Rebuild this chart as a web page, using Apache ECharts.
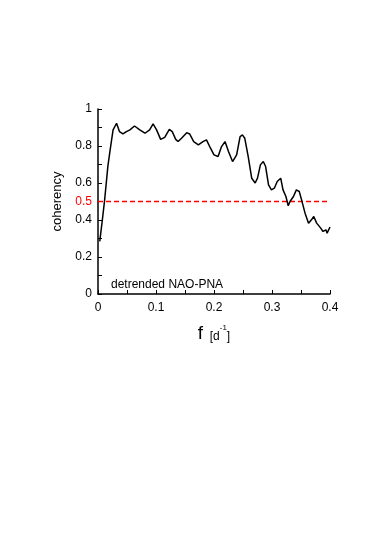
<!DOCTYPE html>
<html>
<head>
<meta charset="utf-8">
<script src="https://cdn.jsdelivr.net/npm/echarts@6/dist/echarts.min.js"></script>
<style>
  html, body { margin: 0; padding: 0; background: #fff; }
  #chart { width: 374px; height: 536px; }
</style>
</head>
<body>
<div id="chart"></div>
<script>
// frequency [1/d] and coherency
const freq = [0.003, 0.0075, 0.0115, 0.017, 0.021, 0.026, 0.032, 0.037, 0.043, 0.049,
  0.055, 0.063, 0.072, 0.081, 0.089, 0.095, 0.101, 0.108, 0.115, 0.123,
  0.128, 0.134, 0.138, 0.144, 0.153, 0.158, 0.165, 0.173, 0.181, 0.187,
  0.194, 0.2, 0.207, 0.213, 0.219, 0.225, 0.232, 0.239, 0.245, 0.249,
  0.253, 0.259, 0.265, 0.271, 0.275, 0.28, 0.285, 0.289, 0.294, 0.299,
  0.304, 0.309, 0.315, 0.319, 0.324, 0.328, 0.331, 0.337, 0.342, 0.347,
  0.351, 0.357, 0.363, 0.368, 0.372, 0.377, 0.384, 0.388, 0.393, 0.395, 0.4];
const coherency = [0.284, 0.40, 0.51, 0.69, 0.78, 0.887, 0.923, 0.878, 0.865, 0.878,
  0.887, 0.908, 0.887, 0.869, 0.887, 0.919, 0.887, 0.836, 0.847, 0.89,
  0.878, 0.836, 0.824, 0.842, 0.872, 0.865, 0.824, 0.806, 0.824, 0.833,
  0.788, 0.752, 0.743, 0.797, 0.824, 0.77, 0.716, 0.752, 0.851, 0.86,
  0.842, 0.743, 0.626, 0.6, 0.626, 0.698, 0.716, 0.689, 0.59, 0.563,
  0.572, 0.608, 0.626, 0.563, 0.527, 0.477, 0.5, 0.527, 0.563, 0.554,
  0.509, 0.437, 0.383, 0.401, 0.419, 0.383, 0.356, 0.338, 0.347, 0.329, 0.362];
// significance level
const threshold = 0.5;
const thresholdSpan = [0, 0.4];
const yLabels = ['0', '0.2', '0.4', '0.5', '0.6', '0.8', '1'];
const xLabels = ['0', '0.1', '0.2', '0.3', '0.4'];

const FONT = 'Liberation Sans, Arial, sans-serif';
const RED = '#ff0000';
const chart = echarts.init(document.getElementById('chart'));

chart.setOption({
  animation: false,
  backgroundColor: '#fff',
  textStyle: { fontFamily: FONT, color: '#000' },
  title: {
    text: 'detrended NAO-PNA',
    left: 106, top: 274,
    textStyle: { fontFamily: FONT, fontSize: 12, fontWeight: 'normal', color: '#000' }
  },
  grid: { left: 98, right: 44, top: 109, bottom: 242 },
  xAxis: {
    type: 'value', min: 0, max: 0.4, interval: 0.05,
    name: '{f|f}  {b|[d}{s|-1}{b|]}',
    nameLocation: 'middle', nameGap: 30,
    nameTextStyle: {
      rich: {
        f: { fontFamily: FONT, fontSize: 19, color: '#000' },
        b: { fontFamily: FONT, fontSize: 12, color: '#000', verticalAlign: 'bottom' },
        s: { fontFamily: FONT, fontSize: 8, color: '#000', verticalAlign: 'top', padding: [0, 0, 6, 0] }
      }
    },
    axisLine: { show: true, lineStyle: { color: '#000', width: 1.5 } },
    axisTick: { show: true, inside: true, length: 4, lineStyle: { color: '#000' } },
    axisLabel: {
      fontFamily: FONT, fontSize: 12, color: '#000', margin: 8,
      formatter: v => {
        const s = String(Math.round(v * 100) / 100);
        return xLabels.includes(s) ? s : '';
      }
    },
    splitLine: { show: false }
  },
  yAxis: {
    type: 'value', min: 0, max: 1, interval: 0.1,
    name: 'coherency',
    nameLocation: 'middle', nameGap: 32,
    nameTextStyle: { fontFamily: FONT, fontSize: 13, color: '#000' },
    axisLine: { show: true, lineStyle: { color: '#000', width: 1.5 } },
    axisTick: { show: true, inside: true, length: 4, lineStyle: { color: '#000' } },
    axisLabel: {
      fontFamily: FONT, fontSize: 12, color: '#000', margin: 6,
      formatter: v => {
        const s = String(Math.round(v * 10) / 10);
        if (!yLabels.includes(s)) return '';
        return s === String(threshold) ? '{r|' + s + '}' : s;
      },
      rich: { r: { fontFamily: FONT, fontSize: 12, color: RED } }
    },
    splitLine: { show: false }
  },
  series: [
    {
      type: 'line',
      data: thresholdSpan.map(f => [f, threshold]),
      color: RED,
      showSymbol: false,
      silent: true,
      itemStyle: { color: RED },
      lineStyle: { color: RED, type: [5, 3], width: 1.5 }
    },
    {
      type: 'line',
      data: freq.map((f, i) => [f, coherency[i]]),
      color: '#000',
      showSymbol: false,
      clip: false,
      lineStyle: { color: '#000', width: 1.5 }
    }
  ]
});
</script>
</body>
</html>
